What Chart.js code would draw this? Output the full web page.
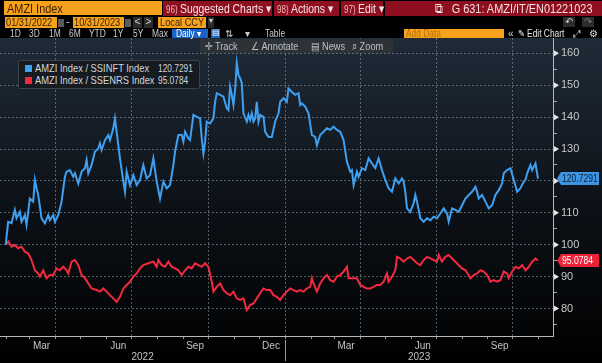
<!DOCTYPE html>
<html><head><meta charset="utf-8">
<script src="https://cdn.jsdelivr.net/npm/chart.js@4.4.0/dist/chart.umd.min.js"></script>
<style>
html,body{margin:0;padding:0;background:#000;width:602px;height:363px;overflow:hidden;font-family:"Liberation Sans",Arial,sans-serif;}
#wrap{position:relative;width:602px;height:363px;}
canvas{position:absolute;left:0;top:0;}
.b{position:absolute;box-sizing:border-box;white-space:nowrap;line-height:1;overflow:visible;}
.s{display:inline-block;transform:scaleX(.84);transform-origin:0 50%;white-space:nowrap;}
.sr{display:inline-block;transform:scaleX(.84);transform-origin:100% 50%;white-space:nowrap;}
.org{background:#f6a21c;color:#3a1c00;}
.mar{background:#8e0f20;color:#f6e2e2;font-size:13px;height:15px;top:1px;padding:1px 0 0 3px;}
.mar .s{transform:scaleX(.8);}
.mar i{font-style:normal;font-size:10px;color:#f0b8b8;margin-right:3px;}
.gr{background:#2c2c2c;color:#cfcfcf;text-align:center;}
.t3{top:29px;font-size:10px;color:#cacaca;height:9px;}
.trk{color:#b9c0c6;font-size:11px;top:41px;}
</style></head>
<body><div id="wrap">
<canvas id="c" width="602" height="363"></canvas>

<div class="b org" style="left:4px;top:1px;width:158px;height:14px;font-size:13px;padding:1px 0 0 3px;"><span class="s">AMZI Index</span></div>
<div class="b mar" style="left:163px;width:109px;"><span class="s"><i>96)</i>Suggested Charts ▾</span></div>
<div class="b mar" style="left:274px;width:65px;"><span class="s"><i>98)</i>Actions ▾</span></div>
<div class="b mar" style="left:341px;width:42px;"><span class="s"><i>97)</i>Edit ▾</span></div>
<div class="b mar" style="left:385px;width:217px;text-align:right;padding-right:10px;"><span class="sr">⧉&nbsp;&nbsp; G 631: AMZI/IT/EN01221023</span></div>

<div class="b org" style="left:5px;top:17px;width:52px;height:11px;font-size:11px;padding:0 0 0 1px;"><span class="s">01/31/2022</span></div>
<div class="b gr" style="left:58px;top:19px;width:6px;height:8px;background:#5a5a5a;"></div>
<div class="b" style="left:66px;top:16px;color:#ccc;font-size:11px;">-</div>
<div class="b org" style="left:73px;top:17px;width:51px;height:11px;font-size:11px;padding:0 0 0 1px;"><span class="s">10/31/2023</span></div>
<div class="b gr" style="left:125px;top:19px;width:6px;height:8px;background:#5a5a5a;"></div>
<div class="b gr" style="left:133px;top:17px;width:9px;height:11px;font-size:10px;">&lt;</div>
<div class="b gr" style="left:144px;top:17px;width:9px;height:11px;font-size:10px;">&gt;</div>
<div class="b org" style="left:158px;top:17px;width:48px;height:11px;font-size:11px;padding:0 0 0 2px;"><span class="s">Local CCY</span></div>
<div class="b gr" style="left:208px;top:17px;width:6px;height:11px;font-size:8px;">▾</div>
<div class="b gr" style="left:563px;top:17px;width:12px;height:10px;font-size:10px;">↶</div>
<div class="b gr" style="left:582px;top:17px;width:12px;height:10px;font-size:10px;color:#777;">↷</div>

<div class="b t3" style="left:10px;"><span class="s">1D</span></div>
<div class="b t3" style="left:29px;"><span class="s">3D</span></div>
<div class="b t3" style="left:49px;"><span class="s">1M</span></div>
<div class="b t3" style="left:69px;"><span class="s">6M</span></div>
<div class="b t3" style="left:89px;"><span class="s">YTD</span></div>
<div class="b t3" style="left:113px;"><span class="s">1Y</span></div>
<div class="b t3" style="left:133px;"><span class="s">5Y</span></div>
<div class="b t3" style="left:152px;"><span class="s">Max</span></div>
<div class="b t3" style="left:172px;width:36px;background:#1b62c9;color:#fff;padding-left:4px;"><span class="s">Daily ▾</span></div>
<div class="b t3" style="left:211px;width:9px;background:#1b62c9;color:#fff;font-size:8px;text-align:center;">▤</div>
<div class="b t3" style="left:225px;">⇅</div>
<div class="b t3" style="left:245px;">▾</div>
<div class="b t3" style="left:265px;"><span class="s">Table</span></div>
<div class="b t3 org" style="left:404px;width:100px;color:#b8720a;padding-left:2px;"><span class="s">Add Data</span></div>
<div class="b t3" style="left:508px;color:#ddd;">«</div>
<div class="b t3" style="left:518px;color:#e6e6e6;"><span class="s">✎ Edit Chart</span></div>
<div class="b t3" style="left:573px;color:#ddd;">⤢</div>
<div class="b t3" style="left:589px;color:#ddd;">⚙</div>

<div class="b" style="left:200px;top:39px;width:193px;height:14px;background:#2d3237;"></div>
<div class="b trk" style="left:205px;"><span class="s">✛ Track</span></div>
<div class="b trk" style="left:251px;"><span class="s">∠ Annotate</span></div>
<div class="b trk" style="left:311px;"><span class="s">▤ News</span></div>
<div class="b trk" style="left:352px;"><span class="s">⌕ Zoom</span></div>

<div class="b" id="legend" style="left:18px;top:60px;width:182px;height:29px;background:#161b21;border:1px solid #3a4149;border-radius:2px;"></div>
</div>
<script>
// ---- data (x = days since 2022-01-31, the first date shown) ----
const startDate = '2022-01-31';
const seriesNames = ['AMZI Index / SSINFT Index', 'AMZI Index / SSENRS Index'];
const seriesColors = ['#3fa0f2', '#f22a40'];

const blueDays = [0,3,7,11,13,17,19,23,25,29,33,35,37,39,43,47,51,53,57,59,63,67,71,73,77,81,83,87,91,95,97,99,103,107,111,113,115,119,123,125,129,131,133,137,141,143,145,149,153,157,161,165,169,173,177,181,185,189,193,197,201,203,207,211,213,215,219,221,225,229,233,235,237,239,241,245,249,251,253,257,261,265,267,269,271,273,275,277,279,281,283,285,289,291,293,295,297,299,301,303,305,309,311,315,319,323,327,329,333,337,339,343,347,351,353,355,359,363,367,371,373,377,381,385,389,393,397,401,405,409,413,415,417,421,423,427,431,435,439,443,447,451,455,459,463,467,471,475,477,479,481,485,489,491,493,497,501,505,509,513,517,521,525,529,531,535,539,543,547,551,555,559,563,565,567,571,575,579,583,587,591,595,597,601,605,609,613,617,621,623,625,629,631,635,638];
const blueValues = [100,107.2,106.8,110.9,108.3,110.3,107.2,109.3,106.2,114.5,113.5,120.3,117.7,115.6,108.3,106.7,109.3,107.7,109.3,107.2,109.3,113.5,121.3,122.9,123.4,121.3,122.4,119.2,122.9,124,126.6,122.4,125,129.2,130.2,131.8,129.7,132.8,134.4,132.8,136.5,139.6,135.4,127.1,119.8,116.6,122.9,118.7,121.8,118.7,120.3,125,120.8,121.8,127.1,119.8,114.5,119.8,117.7,118.7,125,129.2,134.4,134.4,132.3,135.4,133.3,132.8,140.7,140.1,139.6,133.3,128.6,132.3,138.6,138,139.6,144.8,147.5,147,146.4,142.8,142.2,149.5,147,143.8,148.5,156.9,153.2,152.2,150.6,141.2,138.6,140.7,139.1,141.2,138.6,139.6,144.8,138.6,140.7,140.1,135.4,133.8,133.8,138.6,141.2,144.8,145.9,144.8,149,147.9,147,147.5,143.8,144.3,143.3,141.2,134.4,133.8,131.2,134.4,135.4,136.5,136,137,136,135.4,132.8,126,122.9,123.4,118.7,122.9,121.3,124,123.4,127.1,125.5,124,127.1,123.4,120.3,117.7,116.6,120.8,119.2,120.8,119.8,116.6,111.4,110.3,113,115.6,113.5,108.3,107.2,108.3,107.7,108.8,108.3,109.8,111.4,109.8,107.2,111.4,110.9,110.3,112.4,114.5,115.6,116.6,118.2,116.6,114.5,115.6,113.5,111.4,112.4,115.6,117.1,119.2,122.4,123.4,124,120.3,116.6,117.7,119.8,120.3,122.4,125,123.4,125.5,120.7291];

const redDays = [0,3,7,11,15,19,23,27,31,35,39,41,45,49,53,57,61,65,69,73,75,79,83,87,91,95,99,103,109,113,117,121,125,129,133,137,141,145,149,153,157,161,165,171,177,181,183,187,191,195,199,203,207,211,215,219,223,227,231,235,239,243,247,249,253,257,261,265,269,273,277,281,285,289,293,297,301,305,309,313,317,321,325,329,333,337,341,345,349,353,357,361,365,367,369,373,377,381,385,389,393,397,401,405,409,411,415,421,425,429,433,437,441,445,449,453,457,459,463,467,469,473,477,481,485,489,493,497,501,505,509,513,517,519,523,527,531,535,539,543,547,551,555,557,561,565,569,573,577,581,585,589,593,597,601,603,607,611,615,619,623,627,631,635,638];
const redValues = [100,101,99.4,99.9,98.9,99.4,97.8,97.3,95.2,92,91,90,92,89.5,90.5,90.5,92.6,92,93.1,92,91,94.7,95.2,93.6,90.5,89.5,87.9,86.3,85.8,85.3,86.3,85.3,84.2,83.2,82.1,83.7,86.3,87.4,88.4,90,91,92.6,93.6,94.2,94.7,93.1,95.2,93.6,93.1,94.7,93.1,92.6,92,90.5,92,93.1,92.6,94.2,93.6,93.1,94.2,93.1,88.4,85.3,86.8,87.9,85.8,84.8,84.2,85.3,83.2,82.7,83.2,79.5,81.1,81.6,83.2,84.8,86.3,85.8,85.8,84.2,83.7,82.7,84.2,85.3,86.3,85.8,85.3,85.8,85.3,86.3,86.8,89.5,87.9,85.3,87.9,89.5,90.5,88.9,88.4,90,90.5,91.6,93.1,89.5,89.5,89.5,87.4,86.8,86.3,86.3,86.8,87.4,87.4,88.4,91,88.4,90,92,96.2,95.7,94.7,95.7,96.2,95.2,94.2,93.6,95.2,96.2,95.7,95.2,94.7,96.8,94.7,96.2,96.8,95.7,94.7,93.6,92.6,92,90.5,89.5,90.5,91,92,91.6,90.5,88.4,88.9,88.4,88.9,91.6,91,89.5,91.6,93.1,92.6,93.6,92,93.1,94.7,95.7,95.0784];

const monthLabels = ['Mar','Jun','Sep','Dec','Mar','Jun','Sep'];
const monthLabelDates = ['2022-03-15','2022-06-15','2022-09-15','2022-12-15','2023-03-15','2023-06-15','2023-09-15'];
const yearLabels = ['2022','2023'];
const yearStartDate = '2023-01-01';
const yTickLabels = [80,90,100,110,120,130,140,150,160];

// ---- helpers ----
const DAY = 864e5;
const t0 = Date.parse(startDate + 'T00:00:00Z');
const dayOf = s => (Date.parse(s + 'T00:00:00Z') - t0) / DAY;
const X_MIN = -6.8, X_MAX = 656, Y_MIN = 71.4, Y_MAX = 164.8;
const FONT = '"Liberation Sans",Arial,sans-serif';

const xTicks = [];
for (let y = 2022; y <= 2023; y++) for (let m = 0; m < 12; m++) {
  const d = (Date.UTC(y, m, 1) - t0) / DAY;
  if (d > X_MIN && d < X_MAX) xTicks.push({v: d, kind: (m % 3 === 0) ? 'q' : 'm', label: ''});
}
monthLabels.forEach((l, i) => xTicks.push({v: dayOf(monthLabelDates[i]), kind: 'l', label: l}));
const ySplit = dayOf(yearStartDate);
xTicks.push({v: (X_MIN + ySplit) / 2, kind: 'y', label: ['', yearLabels[0]]});
xTicks.push({v: (ySplit + X_MAX) / 2, kind: 'y', label: ['', yearLabels[1]]});
xTicks.sort((a, b) => a.v - b.v);

const yAll = [];
for (let v = 75; v <= 160; v += 5) yAll.push(v);

const GRID = 'rgba(150,160,172,0.55)';

const lastVals = [blueValues[blueValues.length - 1], redValues[redValues.length - 1]];
document.getElementById('legend').innerHTML = seriesNames.map((n, i) =>
  `<div style="position:absolute;left:6px;top:${4 + i * 12}px;width:7px;height:7px;background:${seriesColors[i]};"></div>` +
  `<div style="position:absolute;left:16px;top:${2 + i * 12}px;font-size:11px;color:#d2d7dc;white-space:nowrap;transform:scaleX(.85);transform-origin:0 50%;">${n}</div>` +
  `<div style="position:absolute;left:139px;top:${2 + i * 12}px;font-size:11px;color:#d2d7dc;transform:scaleX(.76);transform-origin:0 50%;">${lastVals[i].toFixed(4)}</div>`
).join('');

const bgPlugin = {
  id: 'bg',
  beforeDraw(chart) {
    const {ctx, chartArea: a} = chart;
    const g = ctx.createLinearGradient(0, a.top, 0, chart.height);
    g.addColorStop(0, '#1f2b38');
    g.addColorStop(0.5, '#0d1218');
    g.addColorStop(1, '#000000');
    ctx.save(); ctx.fillStyle = g; ctx.fillRect(0, a.top, chart.width, chart.height - a.top); ctx.restore();
  },
  afterDraw(chart) {
    const {ctx, chartArea: a} = chart;
    const ys = chart.scales.y, xs = chart.scales.x;
    ctx.save();
    ctx.fillStyle = '#e6e6e6';
    yTickLabels.forEach(v => {
      const p = ys.getPixelForValue(v);
      ctx.beginPath(); ctx.moveTo(a.right + 1, p - 3); ctx.lineTo(a.right + 1, p + 3); ctx.lineTo(a.right + 6, p); ctx.closePath(); ctx.fill();
    });
    const sx = Math.round(xs.getPixelForValue(ySplit)) + 0.5;
    ctx.strokeStyle = '#9a9a9a'; ctx.lineWidth = 1;
    ctx.beginPath(); ctx.moveTo(sx, a.bottom + 4); ctx.lineTo(sx, a.bottom + 25); ctx.stroke();
    const badges = [
      {v: lastVals[0], bg: '#3d94e0', fg: '#0c2238'},
      {v: lastVals[1], bg: '#ec2239', fg: '#ffffff'}
    ];
    ctx.font = '11px ' + FONT; ctx.textBaseline = 'middle';
    badges.forEach(b => {
      const y = ys.getPixelForValue(b.v), x = a.right + 4, w = 42, h = 13;
      ctx.fillStyle = b.bg;
      ctx.beginPath(); ctx.moveTo(x, y); ctx.lineTo(x + 4, y - h / 2); ctx.lineTo(x + w, y - h / 2);
      ctx.lineTo(x + w, y + h / 2); ctx.lineTo(x + 4, y + h / 2); ctx.closePath(); ctx.fill();
      ctx.save(); ctx.translate(x + 5, y + 0.5); ctx.scale(0.78, 1);
      ctx.fillStyle = b.fg; ctx.fillText(b.v.toFixed(4), 0, 0); ctx.restore();
    });
    ctx.restore();
  }
};

new Chart(document.getElementById('c'), {
  type: 'line',
  data: {
    datasets: [
      {data: blueDays.map((d, i) => ({x: d, y: blueValues[i]})), borderColor: seriesColors[0], borderWidth: 2, pointRadius: 0, tension: 0},
      {data: redDays.map((d, i) => ({x: d, y: redValues[i]})), borderColor: seriesColors[1], borderWidth: 2, pointRadius: 0, tension: 0}
    ]
  },
  options: {
    responsive: false, animation: false, devicePixelRatio: 1,
    layout: {padding: {top: 38, left: 0, right: 0, bottom: 0}},
    plugins: {legend: {display: false}, tooltip: {enabled: false}},
    scales: {
      x: {
        type: 'linear', min: X_MIN, max: X_MAX,
        afterFit(s) { s.height = 27; },
        afterBuildTicks(s) { s.ticks = xTicks.map(t => ({value: t.v})); },
        ticks: {autoSkip: false, maxRotation: 0, color: '#c4c4c4', padding: 1,
          font: {size: 10, family: FONT, lineHeight: 1.15},
          callback: (v, i) => xTicks[i] ? xTicks[i].label : ''},
        grid: {
          color: c => (xTicks[c.index] && xTicks[c.index].kind === 'q') ? GRID : 'transparent',
          tickColor: c => (xTicks[c.index] && (xTicks[c.index].kind === 'q' || xTicks[c.index].kind === 'm')) ? '#9a9a9a' : 'transparent',
          tickLength: 3, lineWidth: 1
        },
        border: {display: true, color: '#b8b8b8', width: 1, dash: [2, 2]}
      },
      y: {
        position: 'right', min: Y_MIN, max: Y_MAX,
        afterFit(s) { s.width = 49; },
        afterBuildTicks(s) { s.ticks = yAll.map(v => ({value: v})); },
        ticks: {autoSkip: false, color: '#c8c8c8', padding: 4, font: {size: 11, family: FONT},
          callback: v => yTickLabels.includes(v) ? String(v) : ''},
        grid: {
          color: c => (c.tick && yTickLabels.includes(c.tick.value)) ? GRID : 'transparent',
          tickColor: '#a8a8a8', tickLength: 4, lineWidth: 1
        },
        border: {display: true, color: '#b8b8b8', width: 1, dash: [2, 2]}
      }
    }
  },
  plugins: [bgPlugin]
});
</script>
</body></html>
